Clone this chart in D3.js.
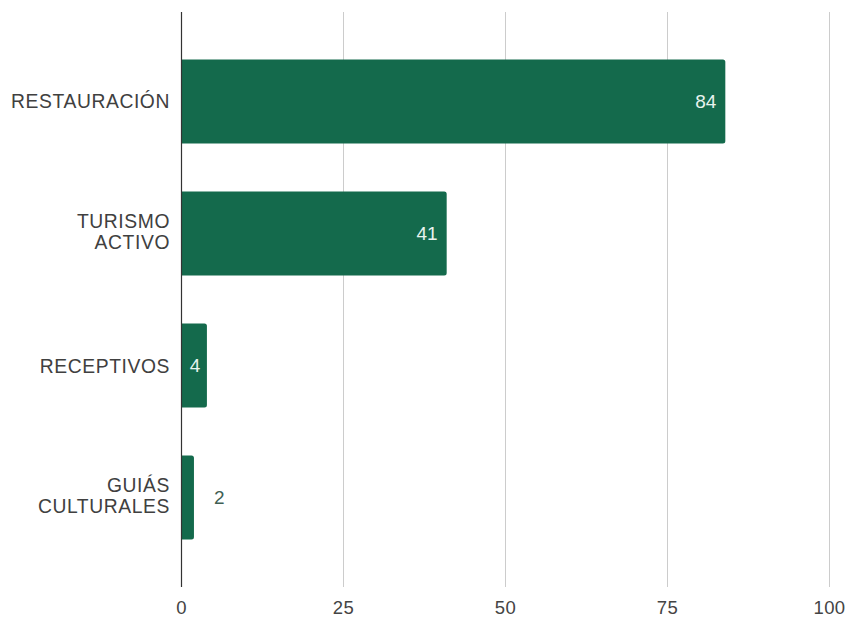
<!DOCTYPE html>
<html><head><meta charset="utf-8">
<script src="https://cdn.jsdelivr.net/npm/d3@7"></script>
<style>body{margin:0;background:#fff}svg{display:block}text{font-family:Arial,"Liberation Sans",sans-serif}</style>
</head><body>
<svg id="c" width="851" height="621"></svg>
<script>
const categories = [["RESTAURACIÓN"], ["TURISMO","ACTIVO"], ["RECEPTIVOS"], ["GUIÁS","CULTURALES"]];
const values = [84, 41, 4, 2];
const ticks = [0, 25, 50, 75, 100];

const svg = d3.select("#c");
const x = d3.scaleLinear().domain([0, 100]).range([181, 829]);
const y = d3.scaleBand().domain(d3.range(values.length)).range([12, 587]).paddingInner(0.364).paddingOuter(0.36);
const barColor = "#146a4c";

// gridlines
svg.append("g").selectAll("line").data(ticks.filter(t => t > 0)).join("line")
  .attr("x1", d => Math.round(x(d)) + 0.5).attr("x2", d => Math.round(x(d)) + 0.5)
  .attr("y1", 12).attr("y2", 587).attr("stroke", "#cccccc").attr("stroke-width", 1);

// x tick labels via axis
const ax = svg.append("g").attr("transform", "translate(0,587)")
  .call(d3.axisBottom(x).tickValues(ticks).tickSize(0).tickPadding(14).tickFormat(d3.format("d")));
ax.select(".domain").remove();
ax.selectAll("text").attr("font-size", 18.5).attr("fill", "#444").attr("letter-spacing", 0.4)
  .style("font-family", 'Arial,"Liberation Sans",sans-serif');

// bars with rounded right corners
function barPath(x0, x1, y0, h, r) {
  r = Math.min(r, (x1 - x0));
  return `M${x0},${y0}H${x1 - r}Q${x1},${y0} ${x1},${y0 + r}V${y0 + h - r}Q${x1},${y0 + h} ${x1 - r},${y0 + h}H${x0}Z`;
}
svg.append("g").selectAll("path").data(values).join("path")
  .attr("d", (d, i) => barPath(x(0), x(d), y(i), y.bandwidth(), 2.5))
  .attr("fill", barColor);

// zero axis line
svg.append("line").attr("x1", 181.5).attr("x2", 181.5).attr("y1", 12).attr("y2", 587)
  .attr("stroke", "#333").attr("stroke-width", 1.2);

// category labels
const lineH = 21;
const cat = svg.append("g").selectAll("text").data(categories).join("text")
  .attr("text-anchor", "end").attr("font-size", 19.3).attr("fill", "#404040")
  .attr("letter-spacing", 0.6)
  .attr("y", (d, i) => y(i) + y.bandwidth() / 2 - (d.length > 1 ? 2 : 0));
cat.each(function (lines) {
  const t = d3.select(this);
  const n = lines.length;
  lines.forEach((l, k) => {
    t.append("tspan").attr("x", 170)
      .attr("dy", k === 0 ? (-(n - 1) * lineH / 2 + 7) : lineH).text(l);
  });
});

// value labels
svg.append("g").selectAll("text").data(values).join("text")
  .attr("font-size", 19)
  .attr("y", (d, i) => y(i) + y.bandwidth() / 2)
  .attr("dy", "0.35em")
  .each(function (d, i) {
    const t = d3.select(this);
    const w = x(d) - x(0);
    if (w > 40) {
      t.attr("x", x(d) - 9).attr("text-anchor", "end").attr("fill", "#e8f3ee");
    } else if (w > 18) {
      t.attr("x", (x(0) + x(d)) / 2 + 1).attr("text-anchor", "middle").attr("fill", "#e8f3ee");
    } else {
      t.attr("x", x(d) + 20).attr("text-anchor", "start").attr("fill", "#3f5f53");
    }
  })
  .text(d => d);
</script>
</body></html>
